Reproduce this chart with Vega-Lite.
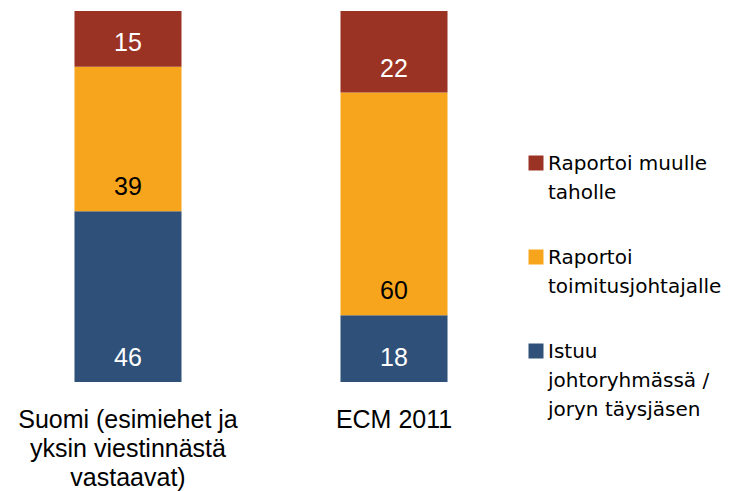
{
  "$schema": "https://vega.github.io/schema/vega-lite/v6.json",
  "width": 522,
  "height": 371,
  "autosize": "none",
  "padding": {"left": 0, "top": 11, "right": 212, "bottom": 109},
  "background": "white",
  "config": {"view": {"stroke": null}, "font": "Liberation Sans"},
  "data": {
    "values": [
      {"group": "Suomi (esimiehet ja yksin viestinnästä vastaavat)", "series": "Istuu johtoryhmässä / joryn täysjäsen", "order": 1, "value": 46},
      {"group": "Suomi (esimiehet ja yksin viestinnästä vastaavat)", "series": "Raportoi toimitusjohtajalle", "order": 2, "value": 39},
      {"group": "Suomi (esimiehet ja yksin viestinnästä vastaavat)", "series": "Raportoi muulle taholle", "order": 3, "value": 15},
      {"group": "ECM 2011", "series": "Istuu johtoryhmässä / joryn täysjäsen", "order": 1, "value": 18},
      {"group": "ECM 2011", "series": "Raportoi toimitusjohtajalle", "order": 2, "value": 60},
      {"group": "ECM 2011", "series": "Raportoi muulle taholle", "order": 3, "value": 22}
    ]
  },
  "transform": [
    {"stack": "value", "groupby": ["group"], "sort": [{"field": "order", "order": "ascending"}], "as": ["v0", "v1"]}
  ],
  "encoding": {
    "x": {
      "field": "group",
      "type": "nominal",
      "sort": ["Suomi (esimiehet ja yksin viestinnästä vastaavat)", "ECM 2011"],
      "scale": {"paddingInner": 0.5977, "paddingOuter": 0.28},
      "axis": {
        "title": null,
        "labelAngle": 0,
        "domain": false,
        "ticks": false,
        "tickSize": 0,
        "grid": false,
        "labelFontSize": 25,
        "labelColor": "#000000",
        "labelLineHeight": 29,
        "labelPadding": 25,
        "labelBaseline": "top",
        "labelLimit": 400,
        "labelExpr": "datum.label == 'ECM 2011' ? 'ECM 2011' : ['Suomi (esimiehet ja', 'yksin viestinnästä', 'vastaavat)']"
      }
    }
  },
  "layer": [
    {
      "mark": {"type": "bar"},
      "encoding": {
        "y": {"field": "v0", "type": "quantitative", "scale": {"domain": [0, 100], "nice": false, "zero": true}, "axis": null},
        "y2": {"field": "v1"},
        "color": {
          "field": "series",
          "type": "nominal",
          "scale": {
            "domain": ["Raportoi muulle taholle", "Raportoi toimitusjohtajalle", "Istuu johtoryhmässä / joryn täysjäsen"],
            "range": ["#9A3324", "#F8A51E", "#2E5079"]
          },
          "legend": {
            "title": null,
            "orient": "none",
            "legendX": 526,
            "legendY": 142,
            "padding": 0,
            "symbolType": "square",
            "symbolSize": 225,
            "symbolStrokeWidth": 0,
            "labelFont": "DejaVu Sans",
            "labelFontSize": 20,
            "labelColor": "#000000",
            "labelOffset": 2,
            "labelLimit": 300,
            "labelBaseline": "top",
            "rowPadding": 44,
            "labelExpr": "datum.label == 'Raportoi muulle taholle' ? ['Raportoi muulle', 'taholle'] : datum.label == 'Raportoi toimitusjohtajalle' ? ['Raportoi', 'toimitusjohtajalle'] : ['Istuu', 'johtoryhmässä /', 'joryn täysjäsen']",
            "encode": {"labels": {"update": {"dy": {"value": -9}, "lineHeight": {"value": 29}}}}
          }
        }
      }
    },
    {
      "mark": {"type": "text", "dy": -24, "fontSize": 25, "baseline": "middle", "align": "center"},
      "encoding": {
        "y": {"field": "v0", "type": "quantitative"},
        "text": {"field": "value", "type": "quantitative"},
        "color": {"condition": {"test": "datum.order == 2", "value": "#000000"}, "value": "#FFFFFF"}
      }
    }
  ]
}
